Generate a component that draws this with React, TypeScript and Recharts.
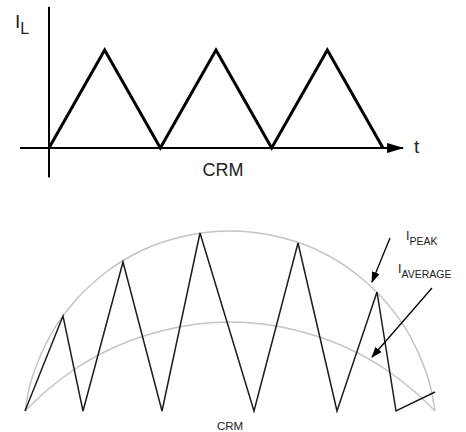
import { LineChart, Line, XAxis, YAxis } from 'recharts';

// top panel: inductor current in CRM, time in half switching periods
const topTimes = [0, 1, 2, 3, 4, 5, 6];
const topCurrent = [0, 1, 0, 1, 0, 1, 0];

// bottom panel: ripple current under the line-frequency envelope
const rippleTimes = [0, 38, 58, 98, 137, 175, 229, 273, 312, 352, 371, 410];
const rippleCurrent = [0, 95, 0, 149, 0, 178, 0, 168, 0, 119, 0, 19];

const peakTimes = [0, 4, 12, 25, 50, 80, 120, 160, 205, 250, 290, 330, 360, 385, 398, 406, 410];
const peakCurrent = [0, 22, 47, 75, 110, 138, 162, 175, 180, 175, 162, 138, 110, 75, 47, 22, 0];

const avgTimes = [0, 20, 50, 90, 140, 205, 270, 320, 360, 390, 410];
const avgCurrent = [0, 19, 42, 64, 81, 89, 81, 64, 42, 19, 0];

// annotation arrows (tail -> head), in bottom panel units
const peakArrow = [{ x: 365, y: 173 }, { x: 347, y: 129 }];
const avgArrow = [{ x: 407, y: 123 }, { x: 347, y: 54 }];

// axis extents of the top panel
const timeAxis = [{ x: -0.52, y: 0 }, { x: 6.36, y: 0 }];
const currentAxis = [{ x: 0, y: -0.3 }, { x: 0, y: 1.44 }];

const zip = (xs: number[], ys: number[]) => xs.map((x, i) => ({ x, y: ys[i] }));

const font = '"Liberation Sans", Arial, sans-serif';

export default function App() {
  const topData = zip(topTimes, topCurrent);
  const ripple = zip(rippleTimes, rippleCurrent);
  const peak = zip(peakTimes, peakCurrent);
  const avg = zip(avgTimes, avgCurrent);

  return (
    <div style={{ position: 'absolute', left: 0, top: 0, width: 466, height: 432, background: '#fff' }}>
      <LineChart width={466} height={190} margin={{ top: 0, right: 0, bottom: 0, left: 0 }}>
        <defs>
          <marker id="axisHead" viewBox="0 0 17 10" refX="16" refY="5" markerWidth="17" markerHeight="10"
            markerUnits="userSpaceOnUse" orient="auto">
            <path d="M0,0 L17,5 L0,10 z" fill="#000" />
          </marker>
        </defs>
        <XAxis dataKey="x" type="number" domain={[-0.88, 7.491]} allowDataOverflow hide />
        <YAxis type="number" domain={[-0.4286, 1.5102]} allowDataOverflow hide />
        <Line data={timeAxis} dataKey="y" stroke="#000" strokeWidth={2} dot={false} activeDot={false}
          markerEnd="url(#axisHead)" isAnimationActive={false} />
        <Line data={currentAxis} dataKey="y" stroke="#000" strokeWidth={2} dot={false} activeDot={false}
          isAnimationActive={false} />
        <Line data={topData} dataKey="y" type="linear" stroke="#000" strokeWidth={3} dot={false}
          activeDot={false} isAnimationActive={false} />
        <text x={15} y={28} fontFamily={font} fontSize={19} fill="#222">
          I<tspan dy={6} fontSize={16}>L</tspan>
        </text>
        <text x={414} y={153} fontFamily={font} fontSize={19} fill="#222">t</text>
        <text x={223} y={176} textAnchor="middle" fontFamily={font} fontSize={18} fill="#222">CRM</text>
      </LineChart>

      <LineChart width={466} height={242} margin={{ top: 0, right: 0, bottom: 0, left: 0 }}>
        <defs>
          <marker id="noteHead" viewBox="0 0 11 8" refX="10" refY="4" markerWidth="11" markerHeight="8"
            markerUnits="userSpaceOnUse" orient="auto">
            <path d="M0,0 L11,4 L0,8 z" fill="#000" />
          </marker>
        </defs>
        <XAxis dataKey="x" type="number" domain={[-25, 441]} allowDataOverflow hide />
        <YAxis type="number" domain={[-21, 221]} allowDataOverflow hide />
        <Line data={peak} dataKey="y" type="monotoneX" stroke="#c4c4c4" strokeWidth={1.5} dot={false}
          activeDot={false} isAnimationActive={false} />
        <Line data={avg} dataKey="y" type="monotoneX" stroke="#c4c4c4" strokeWidth={1.5} dot={false}
          activeDot={false} isAnimationActive={false} />
        <Line data={ripple} dataKey="y" type="linear" stroke="#1c1c1c" strokeWidth={1.5} dot={false}
          activeDot={false} isAnimationActive={false} />
        <Line data={peakArrow} dataKey="y" stroke="#000" strokeWidth={1.3} dot={false} activeDot={false}
          markerEnd="url(#noteHead)" isAnimationActive={false} />
        <Line data={avgArrow} dataKey="y" stroke="#000" strokeWidth={1.3} dot={false} activeDot={false}
          markerEnd="url(#noteHead)" isAnimationActive={false} />
        <text x={406} y={50} fontFamily={font} fontSize={12.5} fill="#222">
          I<tspan dy={5} fontSize={10.5}>PEAK</tspan>
        </text>
        <text x={398} y={83} fontFamily={font} fontSize={12.5} fill="#222">
          I<tspan dy={5} fontSize={10.5}>AVERAGE</tspan>
        </text>
        <text x={230} y={240} textAnchor="middle" fontFamily={font} fontSize={11.5} fill="#222">CRM</text>
      </LineChart>
    </div>
  );
}
